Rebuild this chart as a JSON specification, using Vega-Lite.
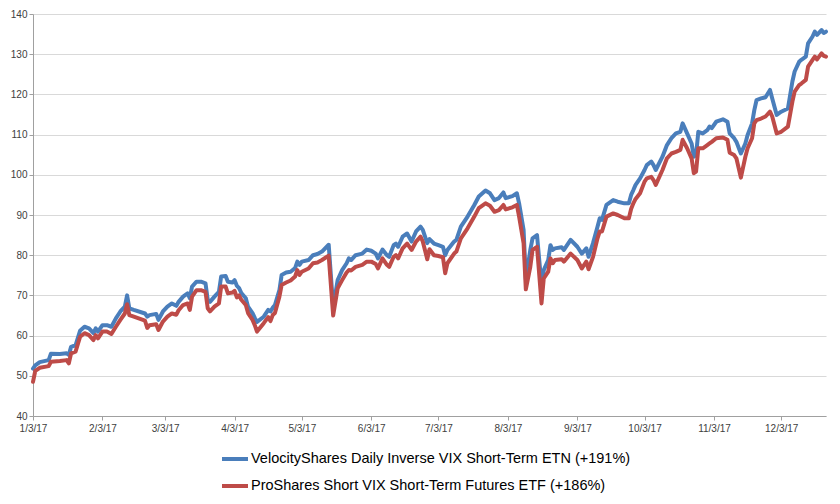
{
 "$schema": "https://vega.github.io/schema/vega-lite/v6.json",
 "width": 793, "height": 402,
 "autosize": {"type": "none"},
 "padding": {"left": 33, "top": 14, "right": 14, "bottom": 88},
 "background": "white",
 "config": {"view": {"stroke": null}, "font": "Liberation Sans"},
 "data": {"values": [
  {"date":"2017-01-03","velocity":51.8,"proshares":48.5},
  {"date":"2017-01-04","velocity":52.6,"proshares":51.2},
  {"date":"2017-01-06","velocity":53.4,"proshares":52.0},
  {"date":"2017-01-10","velocity":53.9,"proshares":52.4},
  {"date":"2017-01-11","velocity":55.5,"proshares":53.5},
  {"date":"2017-01-15","velocity":55.4,"proshares":53.7},
  {"date":"2017-01-18","velocity":55.6,"proshares":53.9},
  {"date":"2017-01-19","velocity":55.2,"proshares":53.1},
  {"date":"2017-01-20","velocity":57.2,"proshares":55.6},
  {"date":"2017-01-22","velocity":57.6,"proshares":56.0},
  {"date":"2017-01-24","velocity":61.2,"proshares":59.7},
  {"date":"2017-01-26","velocity":62.2,"proshares":60.6},
  {"date":"2017-01-28","velocity":61.8,"proshares":60.1},
  {"date":"2017-01-30","velocity":60.6,"proshares":58.9},
  {"date":"2017-01-31","velocity":61.8,"proshares":60.1},
  {"date":"2017-02-01","velocity":61.0,"proshares":59.3},
  {"date":"2017-02-03","velocity":62.6,"proshares":61.0},
  {"date":"2017-02-05","velocity":62.6,"proshares":61.0},
  {"date":"2017-02-07","velocity":62.2,"proshares":60.4},
  {"date":"2017-02-09","velocity":64.3,"proshares":62.2},
  {"date":"2017-02-11","velocity":66.0,"proshares":63.9},
  {"date":"2017-02-13","velocity":67.2,"proshares":65.5},
  {"date":"2017-02-14","velocity":70.0,"proshares":67.8},
  {"date":"2017-02-15","velocity":66.8,"proshares":65.1},
  {"date":"2017-02-17","velocity":66.4,"proshares":64.7},
  {"date":"2017-02-22","velocity":65.5,"proshares":63.7},
  {"date":"2017-02-23","velocity":64.7,"proshares":61.9},
  {"date":"2017-02-24","velocity":65.1,"proshares":62.6},
  {"date":"2017-02-27","velocity":65.4,"proshares":62.8},
  {"date":"2017-02-28","velocity":63.9,"proshares":61.4},
  {"date":"2017-03-02","velocity":66.0,"proshares":63.5},
  {"date":"2017-03-04","velocity":67.2,"proshares":64.7},
  {"date":"2017-03-06","velocity":68.0,"proshares":65.5},
  {"date":"2017-03-08","velocity":67.4,"proshares":65.2},
  {"date":"2017-03-09","velocity":68.4,"proshares":66.3},
  {"date":"2017-03-11","velocity":69.7,"proshares":67.6},
  {"date":"2017-03-13","velocity":70.5,"proshares":68.0},
  {"date":"2017-03-14","velocity":69.3,"proshares":66.4},
  {"date":"2017-03-15","velocity":72.2,"proshares":69.7},
  {"date":"2017-03-17","velocity":73.4,"proshares":71.3},
  {"date":"2017-03-19","velocity":73.4,"proshares":71.3},
  {"date":"2017-03-21","velocity":73.0,"proshares":70.9},
  {"date":"2017-03-22","velocity":68.9,"proshares":66.8},
  {"date":"2017-03-23","velocity":68.4,"proshares":66.0},
  {"date":"2017-03-25","velocity":69.7,"proshares":67.2},
  {"date":"2017-03-27","velocity":70.9,"proshares":68.0},
  {"date":"2017-03-28","velocity":74.7,"proshares":72.2},
  {"date":"2017-03-30","velocity":74.8,"proshares":72.2},
  {"date":"2017-03-31","velocity":73.4,"proshares":70.5},
  {"date":"2017-04-02","velocity":73.2,"proshares":70.7},
  {"date":"2017-04-03","velocity":73.8,"proshares":71.1},
  {"date":"2017-04-04","velocity":72.4,"proshares":69.5},
  {"date":"2017-04-05","velocity":71.8,"proshares":70.0},
  {"date":"2017-04-06","velocity":70.6,"proshares":68.9},
  {"date":"2017-04-08","velocity":69.3,"proshares":67.6},
  {"date":"2017-04-09","velocity":67.2,"proshares":65.6},
  {"date":"2017-04-11","velocity":65.6,"proshares":63.9},
  {"date":"2017-04-12","velocity":64.4,"proshares":62.6},
  {"date":"2017-04-13","velocity":63.4,"proshares":61.0},
  {"date":"2017-04-16","velocity":64.7,"proshares":63.1},
  {"date":"2017-04-18","velocity":66.4,"proshares":64.6},
  {"date":"2017-04-19","velocity":66.0,"proshares":63.6},
  {"date":"2017-04-20","velocity":66.9,"proshares":65.1},
  {"date":"2017-04-21","velocity":67.6,"proshares":65.6},
  {"date":"2017-04-23","velocity":71.3,"proshares":69.7},
  {"date":"2017-04-24","velocity":75.1,"proshares":72.6},
  {"date":"2017-04-26","velocity":75.7,"proshares":73.2},
  {"date":"2017-04-28","velocity":75.9,"proshares":73.7},
  {"date":"2017-04-30","velocity":76.8,"proshares":74.7},
  {"date":"2017-05-01","velocity":78.4,"proshares":76.3},
  {"date":"2017-05-02","velocity":77.6,"proshares":75.1},
  {"date":"2017-05-03","velocity":78.4,"proshares":75.9},
  {"date":"2017-05-06","velocity":78.8,"proshares":76.7},
  {"date":"2017-05-08","velocity":80.0,"proshares":78.0},
  {"date":"2017-05-10","velocity":80.3,"proshares":78.2},
  {"date":"2017-05-12","velocity":80.9,"proshares":78.8},
  {"date":"2017-05-15","velocity":82.6,"proshares":79.9},
  {"date":"2017-05-17","velocity":67.0,"proshares":65.0},
  {"date":"2017-05-19","velocity":73.8,"proshares":71.8},
  {"date":"2017-05-21","velocity":76.3,"proshares":73.8},
  {"date":"2017-05-23","velocity":78.0,"proshares":75.7},
  {"date":"2017-05-24","velocity":79.2,"proshares":76.3},
  {"date":"2017-05-25","velocity":78.8,"proshares":76.2},
  {"date":"2017-05-27","velocity":80.0,"proshares":77.1},
  {"date":"2017-05-30","velocity":80.4,"proshares":77.6},
  {"date":"2017-06-01","velocity":81.4,"proshares":78.4},
  {"date":"2017-06-03","velocity":81.1,"proshares":78.4},
  {"date":"2017-06-05","velocity":80.4,"proshares":77.8},
  {"date":"2017-06-06","velocity":79.2,"proshares":76.7},
  {"date":"2017-06-08","velocity":81.4,"proshares":79.2},
  {"date":"2017-06-10","velocity":80.0,"proshares":77.6},
  {"date":"2017-06-11","velocity":79.6,"proshares":77.1},
  {"date":"2017-06-13","velocity":82.5,"proshares":79.6},
  {"date":"2017-06-14","velocity":82.9,"proshares":80.0},
  {"date":"2017-06-15","velocity":82.1,"proshares":79.2},
  {"date":"2017-06-17","velocity":84.6,"proshares":81.7},
  {"date":"2017-06-19","velocity":85.4,"proshares":82.9},
  {"date":"2017-06-21","velocity":83.4,"proshares":81.3},
  {"date":"2017-06-23","velocity":85.9,"proshares":83.4},
  {"date":"2017-06-25","velocity":87.1,"proshares":84.6},
  {"date":"2017-06-26","velocity":86.3,"proshares":83.4},
  {"date":"2017-06-28","velocity":83.0,"proshares":79.0},
  {"date":"2017-06-29","velocity":84.0,"proshares":81.5},
  {"date":"2017-07-01","velocity":82.9,"proshares":80.0},
  {"date":"2017-07-03","velocity":82.5,"proshares":79.8},
  {"date":"2017-07-05","velocity":82.1,"proshares":79.5},
  {"date":"2017-07-06","velocity":80.0,"proshares":75.5},
  {"date":"2017-07-07","velocity":81.3,"proshares":78.0},
  {"date":"2017-07-10","velocity":83.4,"proshares":80.4},
  {"date":"2017-07-11","velocity":83.8,"proshares":80.9},
  {"date":"2017-07-13","velocity":87.1,"proshares":84.2},
  {"date":"2017-07-16","velocity":89.6,"proshares":86.7},
  {"date":"2017-07-19","velocity":92.5,"proshares":89.6},
  {"date":"2017-07-21","velocity":94.6,"proshares":91.7},
  {"date":"2017-07-24","velocity":96.1,"proshares":92.9},
  {"date":"2017-07-26","velocity":95.4,"proshares":92.3},
  {"date":"2017-07-28","velocity":93.7,"proshares":90.8},
  {"date":"2017-07-30","velocity":94.2,"proshares":91.2},
  {"date":"2017-08-01","velocity":95.6,"proshares":92.5},
  {"date":"2017-08-02","velocity":94.2,"proshares":91.4},
  {"date":"2017-08-05","velocity":94.7,"proshares":91.9},
  {"date":"2017-08-07","velocity":95.4,"proshares":92.5},
  {"date":"2017-08-08","velocity":92.9,"proshares":89.6},
  {"date":"2017-08-10","velocity":86.3,"proshares":83.0},
  {"date":"2017-08-11","velocity":74.0,"proshares":71.5},
  {"date":"2017-08-13","velocity":81.3,"proshares":77.1},
  {"date":"2017-08-14","velocity":84.2,"proshares":81.3},
  {"date":"2017-08-16","velocity":85.0,"proshares":82.1},
  {"date":"2017-08-18","velocity":72.5,"proshares":68.0},
  {"date":"2017-08-19","velocity":76.3,"proshares":74.2},
  {"date":"2017-08-21","velocity":78.8,"proshares":75.9},
  {"date":"2017-08-22","velocity":82.5,"proshares":79.2},
  {"date":"2017-08-23","velocity":81.3,"proshares":78.0},
  {"date":"2017-08-24","velocity":81.7,"proshares":78.8},
  {"date":"2017-08-27","velocity":82.0,"proshares":79.0},
  {"date":"2017-08-28","velocity":81.3,"proshares":78.4},
  {"date":"2017-08-31","velocity":83.8,"proshares":80.4},
  {"date":"2017-09-03","velocity":82.1,"proshares":78.8},
  {"date":"2017-09-05","velocity":80.4,"proshares":76.7},
  {"date":"2017-09-07","velocity":81.7,"proshares":78.4},
  {"date":"2017-09-08","velocity":79.6,"proshares":76.5},
  {"date":"2017-09-10","velocity":83.0,"proshares":79.6},
  {"date":"2017-09-12","velocity":87.1,"proshares":84.2},
  {"date":"2017-09-13","velocity":89.2,"proshares":85.9},
  {"date":"2017-09-14","velocity":88.8,"proshares":85.9},
  {"date":"2017-09-16","velocity":92.5,"proshares":89.6},
  {"date":"2017-09-19","velocity":93.7,"proshares":90.4},
  {"date":"2017-09-21","velocity":93.3,"proshares":90.0},
  {"date":"2017-09-24","velocity":92.9,"proshares":89.2},
  {"date":"2017-09-26","velocity":92.9,"proshares":89.2},
  {"date":"2017-09-27","velocity":95.0,"proshares":91.5},
  {"date":"2017-09-28","velocity":96.2,"proshares":92.9},
  {"date":"2017-09-29","velocity":97.5,"proshares":94.0},
  {"date":"2017-10-01","velocity":99.1,"proshares":95.4},
  {"date":"2017-10-03","velocity":101.2,"proshares":98.3},
  {"date":"2017-10-04","velocity":102.4,"proshares":99.1},
  {"date":"2017-10-06","velocity":103.3,"proshares":99.5},
  {"date":"2017-10-07","velocity":102.4,"proshares":98.7},
  {"date":"2017-10-08","velocity":101.2,"proshares":97.5},
  {"date":"2017-10-11","velocity":104.5,"proshares":101.2},
  {"date":"2017-10-13","velocity":107.4,"proshares":104.1},
  {"date":"2017-10-15","velocity":109.1,"proshares":105.3},
  {"date":"2017-10-17","velocity":110.3,"proshares":105.7},
  {"date":"2017-10-19","velocity":110.7,"proshares":106.2},
  {"date":"2017-10-20","velocity":112.8,"proshares":108.7},
  {"date":"2017-10-22","velocity":110.3,"proshares":106.6},
  {"date":"2017-10-24","velocity":107.8,"proshares":104.1},
  {"date":"2017-10-25","velocity":104.5,"proshares":100.4},
  {"date":"2017-10-26","velocity":104.9,"proshares":100.8},
  {"date":"2017-10-27","velocity":110.7,"proshares":106.6},
  {"date":"2017-10-29","velocity":110.3,"proshares":106.6},
  {"date":"2017-10-31","velocity":111.1,"proshares":107.4},
  {"date":"2017-11-01","velocity":112.0,"proshares":107.8},
  {"date":"2017-11-02","velocity":111.6,"proshares":108.2},
  {"date":"2017-11-04","velocity":113.2,"proshares":109.1},
  {"date":"2017-11-07","velocity":113.8,"proshares":109.3},
  {"date":"2017-11-09","velocity":113.2,"proshares":108.7},
  {"date":"2017-11-10","velocity":110.3,"proshares":105.5},
  {"date":"2017-11-12","velocity":109.1,"proshares":104.9},
  {"date":"2017-11-13","velocity":108.2,"proshares":104.1},
  {"date":"2017-11-15","velocity":105.3,"proshares":99.3},
  {"date":"2017-11-17","velocity":107.8,"proshares":104.5},
  {"date":"2017-11-18","velocity":109.9,"proshares":106.6},
  {"date":"2017-11-20","velocity":112.8,"proshares":109.1},
  {"date":"2017-11-21","velocity":116.1,"proshares":112.8},
  {"date":"2017-11-22","velocity":118.6,"proshares":113.6},
  {"date":"2017-11-24","velocity":119.0,"proshares":114.0},
  {"date":"2017-11-26","velocity":119.3,"proshares":114.5},
  {"date":"2017-11-28","velocity":121.1,"proshares":115.7},
  {"date":"2017-11-29","velocity":119.0,"proshares":114.5},
  {"date":"2017-12-01","velocity":114.9,"proshares":110.3},
  {"date":"2017-12-03","velocity":115.7,"proshares":110.7},
  {"date":"2017-12-06","velocity":116.5,"proshares":112.0},
  {"date":"2017-12-08","velocity":123.2,"proshares":118.2},
  {"date":"2017-12-09","velocity":125.7,"proshares":120.7},
  {"date":"2017-12-11","velocity":128.1,"proshares":122.3},
  {"date":"2017-12-12","velocity":128.6,"proshares":122.7},
  {"date":"2017-12-14","velocity":129.4,"proshares":123.6},
  {"date":"2017-12-15","velocity":132.7,"proshares":126.9},
  {"date":"2017-12-17","velocity":134.4,"proshares":128.6},
  {"date":"2017-12-18","velocity":135.6,"proshares":129.4},
  {"date":"2017-12-19","velocity":134.8,"proshares":128.7},
  {"date":"2017-12-21","velocity":136.0,"proshares":130.2},
  {"date":"2017-12-22","velocity":135.3,"proshares":129.6},
  {"date":"2017-12-23","velocity":135.6,"proshares":129.4}
 ]},
 "transform": [{"fold": ["velocity", "proshares"], "as": ["series", "price"]}],
 "mark": {"type": "line", "strokeWidth": 4, "strokeJoin": "round", "strokeCap": "round"},
 "encoding": {
  "x": {
   "field": "date", "type": "temporal",
   "scale": {"type": "utc", "domain": [{"year": 2017, "month": 1, "date": 3, "utc": true}, {"year": 2017, "month": 12, "date": 23, "utc": true}]},
   "axis": {
    "title": null, "grid": false, "format": "%-m/%-d/%y",
    "values": [
     {"year": 2017, "month": 1, "date": 3, "utc": true},
     {"year": 2017, "month": 2, "date": 3, "utc": true},
     {"year": 2017, "month": 3, "date": 3, "utc": true},
     {"year": 2017, "month": 4, "date": 3, "utc": true},
     {"year": 2017, "month": 5, "date": 3, "utc": true},
     {"year": 2017, "month": 6, "date": 3, "utc": true},
     {"year": 2017, "month": 7, "date": 3, "utc": true},
     {"year": 2017, "month": 8, "date": 3, "utc": true},
     {"year": 2017, "month": 9, "date": 3, "utc": true},
     {"year": 2017, "month": 10, "date": 3, "utc": true},
     {"year": 2017, "month": 11, "date": 3, "utc": true},
     {"year": 2017, "month": 12, "date": 3, "utc": true}
    ],
    "labelFontSize": 10, "labelColor": "#404040", "labelPadding": 3,
    "domainColor": "#a0a0a0", "tickColor": "#a0a0a0", "tickSize": 4, "labelFlush": false
   }
  },
  "y": {
   "field": "price", "type": "quantitative",
   "scale": {"domain": [40, 140], "nice": false},
   "axis": {
    "title": null, "values": [40, 50, 60, 70, 80, 90, 100, 110, 120, 130, 140],
    "grid": true, "gridColor": "#d9d9d9", "domainColor": "#a0a0a0", "tickColor": "#a0a0a0",
    "tickSize": 4, "labelFontSize": 10, "labelColor": "#404040", "labelPadding": 2
   }
  },
  "color": {
   "field": "series", "type": "nominal",
   "scale": {"domain": ["velocity", "proshares"], "range": ["#4A7EBB", "#BE4B48"]},
   "legend": {
    "orient": "none", "legendX": 187, "legendY": 430, "title": null, "direction": "vertical",
    "symbolType": "stroke", "symbolSize": 676, "symbolStrokeWidth": 4,
    "labelFontSize": 14.5, "labelColor": "#000000", "labelOffset": 1, "rowPadding": 4,
    "labelLimit": 600,
    "labelExpr": "datum.label == 'velocity' ? 'VelocityShares Daily Inverse VIX Short-Term ETN (+191%)' : 'ProShares Short VIX Short-Term Futures ETF (+186%)'"
   }
  }
 }
}
